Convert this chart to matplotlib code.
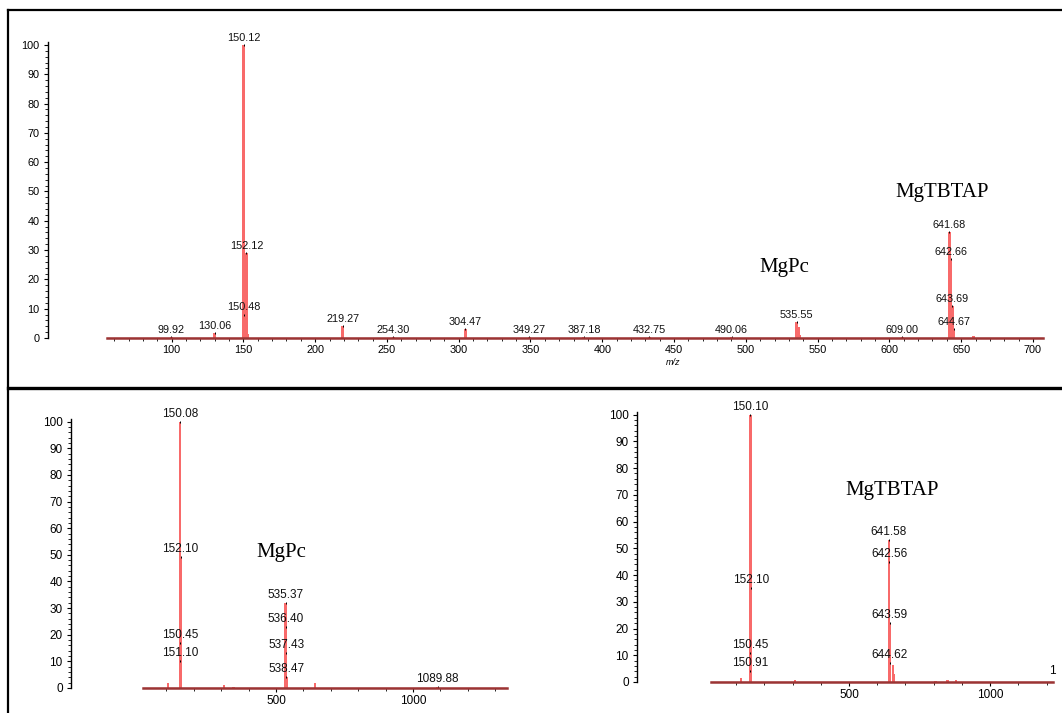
import matplotlib
matplotlib.use("Agg")
import matplotlib.pyplot as plt
from matplotlib.lines import Line2D
from matplotlib.ticker import MultipleLocator

plt.rcParams['font.family'] = ['Liberation Sans', 'DejaVu Sans']

W, H = 1062, 713

# --- datos: espectro superior (m/z, intensidad relativa) ---
top_mz = [99.92, 130.06, 150.12, 150.48, 152.12, 219.27, 254.30, 304.47, 349.27,
          387.18, 432.75, 490.06, 535.55, 609.00, 641.68, 642.66, 643.69, 644.67]
top_int = [0.4, 1.8, 100, 8, 29, 4.2, 0.4, 3, 0.3,
           0.3, 0.3, 0.3, 5.3, 0.3, 36, 27, 11, 3]
top_extra_mz = [151.0, 153.0, 536.5, 537.5, 658.5]
top_extra_int = [20, 1.2, 3.7, 1.0, 0.6]

# --- espectro inferior izquierdo (MgPc) ---
bl_mz = [150.08, 150.45, 151.10, 152.10, 535.37, 536.40, 537.43, 538.47, 1089.88]
bl_int = [100, 17, 10, 49, 32, 23, 13, 4, 0.3]
bl_extra_mz = [106, 311, 345, 643]
bl_extra_int = [2.0, 1.0, 0.5, 1.8]

# --- espectro inferior derecho (MgTBTAP) ---
br_mz = [150.10, 150.45, 150.91, 152.10, 641.58, 642.56, 643.59, 644.62]
br_int = [100, 11, 4, 35, 53, 45, 22, 7]
br_extra_mz = [117, 308, 656, 660, 806, 850, 880]
br_extra_int = [1.5, 0.6, 6.4, 3.0, 0.4, 0.8, 0.6]

PEAK = '#f86a6a'
BASE = '#9b3434'


def px_axes(fig, left, top, right, bottom):
    return fig.add_axes([left / W, 1 - bottom / H, (right - left) / W, (bottom - top) / H])


def spectrum(ax, mz, inten, extra_mz, extra_int, xlim, width, spine_px,
             major, minor, fs, label_fs):
    ax.bar(extra_mz, extra_int, width=width, color=PEAK, linewidth=0)
    ax.bar(mz, inten, width=width, color=PEAK, linewidth=0)
    ax.axhline(0, color=PEAK, lw=1.0, zorder=1)
    for m, h in zip(mz, inten):
        ax.plot(m, h, marker='|', ms=2, mew=0.7, color='k', ls='none', clip_on=False)
        ax.annotate(f"{m:.2f}", (m, h), xytext=(0, 1.5), textcoords='offset points',
                    ha='center', va='bottom', fontsize=label_fs, color='#111111')
    ax.set_xlim(*xlim)
    ax.set_ylim(0, 101)
    for s in ['top', 'right']:
        ax.spines[s].set_visible(False)
    ax.spines['left'].set_position(('outward', spine_px * 0.72))
    ax.spines['left'].set_bounds(0, 101)
    ax.spines['left'].set_linewidth(1.0)
    ax.spines['bottom'].set_color(BASE)
    ax.spines['bottom'].set_linewidth(1.8)
    ax.patch.set_alpha(0)
    ax.yaxis.set_major_locator(MultipleLocator(10))
    ax.yaxis.set_minor_locator(MultipleLocator(2))
    ax.xaxis.set_major_locator(MultipleLocator(major))
    ax.xaxis.set_minor_locator(MultipleLocator(minor))
    ax.tick_params(axis='both', which='major', length=3, width=0.8, labelsize=fs,
                   direction='out', color='k', pad=2)
    ax.tick_params(axis='both', which='minor', length=2, width=0.6, direction='out', color='k')
    ax.tick_params(axis='y', pad=3)


fig = plt.figure(figsize=(W / 100, H / 100), dpi=100)

# panel superior
ax1 = px_axes(fig, 107, 42, 1043, 338)
spectrum(ax1, top_mz, top_int, top_extra_mz, top_extra_int, (55, 707), 2.0, 59, 50, 10, 7.8, 7.8)
ax1.text(527, 24.2, "MgPc", family='Liberation Serif', fontsize=15, ha='center', va='center')
ax1.text(637, 49.8, "MgTBTAP", family='Liberation Serif', fontsize=15, ha='center', va='center')
fig.text(673 / W, 1 - 363 / H, "m/z", fontsize=6.5, style='italic', ha='center', va='center')

# panel inferior izquierdo
ax2 = px_axes(fig, 143, 419, 507, 688)
spectrum(ax2, bl_mz, bl_int, bl_extra_mz, bl_extra_int, (15, 1343), 9, 72, 500, 100, 8.5, 8.5)
ax2.text(518, 51, "MgPc", family='Liberation Serif', fontsize=15, ha='center', va='center')

# panel inferior derecho
ax3 = px_axes(fig, 711, 412, 1053, 682)
spectrum(ax3, br_mz, br_int, br_extra_mz, br_extra_int, (11, 1223), 9, 74, 500, 100, 8.5, 8.5)
ax3.text(652, 71.8, "MgTBTAP", family='Liberation Serif', fontsize=15, ha='center', va='center')
fig.text(1049 / W, 1 - 671 / H, "1", fontsize=8.5, ha='left', va='center')

# marcos
def fig_line(x0, y0, x1, y1, lw):
    fig.add_artist(Line2D([x0 / W, x1 / W], [1 - y0 / H, 1 - y1 / H], color='k', lw=lw,
                          transform=fig.transFigure))

fig_line(8, 10, 1062, 10, 1.6)
fig_line(8, 10, 8, 713, 1.6)
fig_line(8, 387.5, 1062, 387.5, 2.4)

fig.savefig("out.png", dpi=100)
